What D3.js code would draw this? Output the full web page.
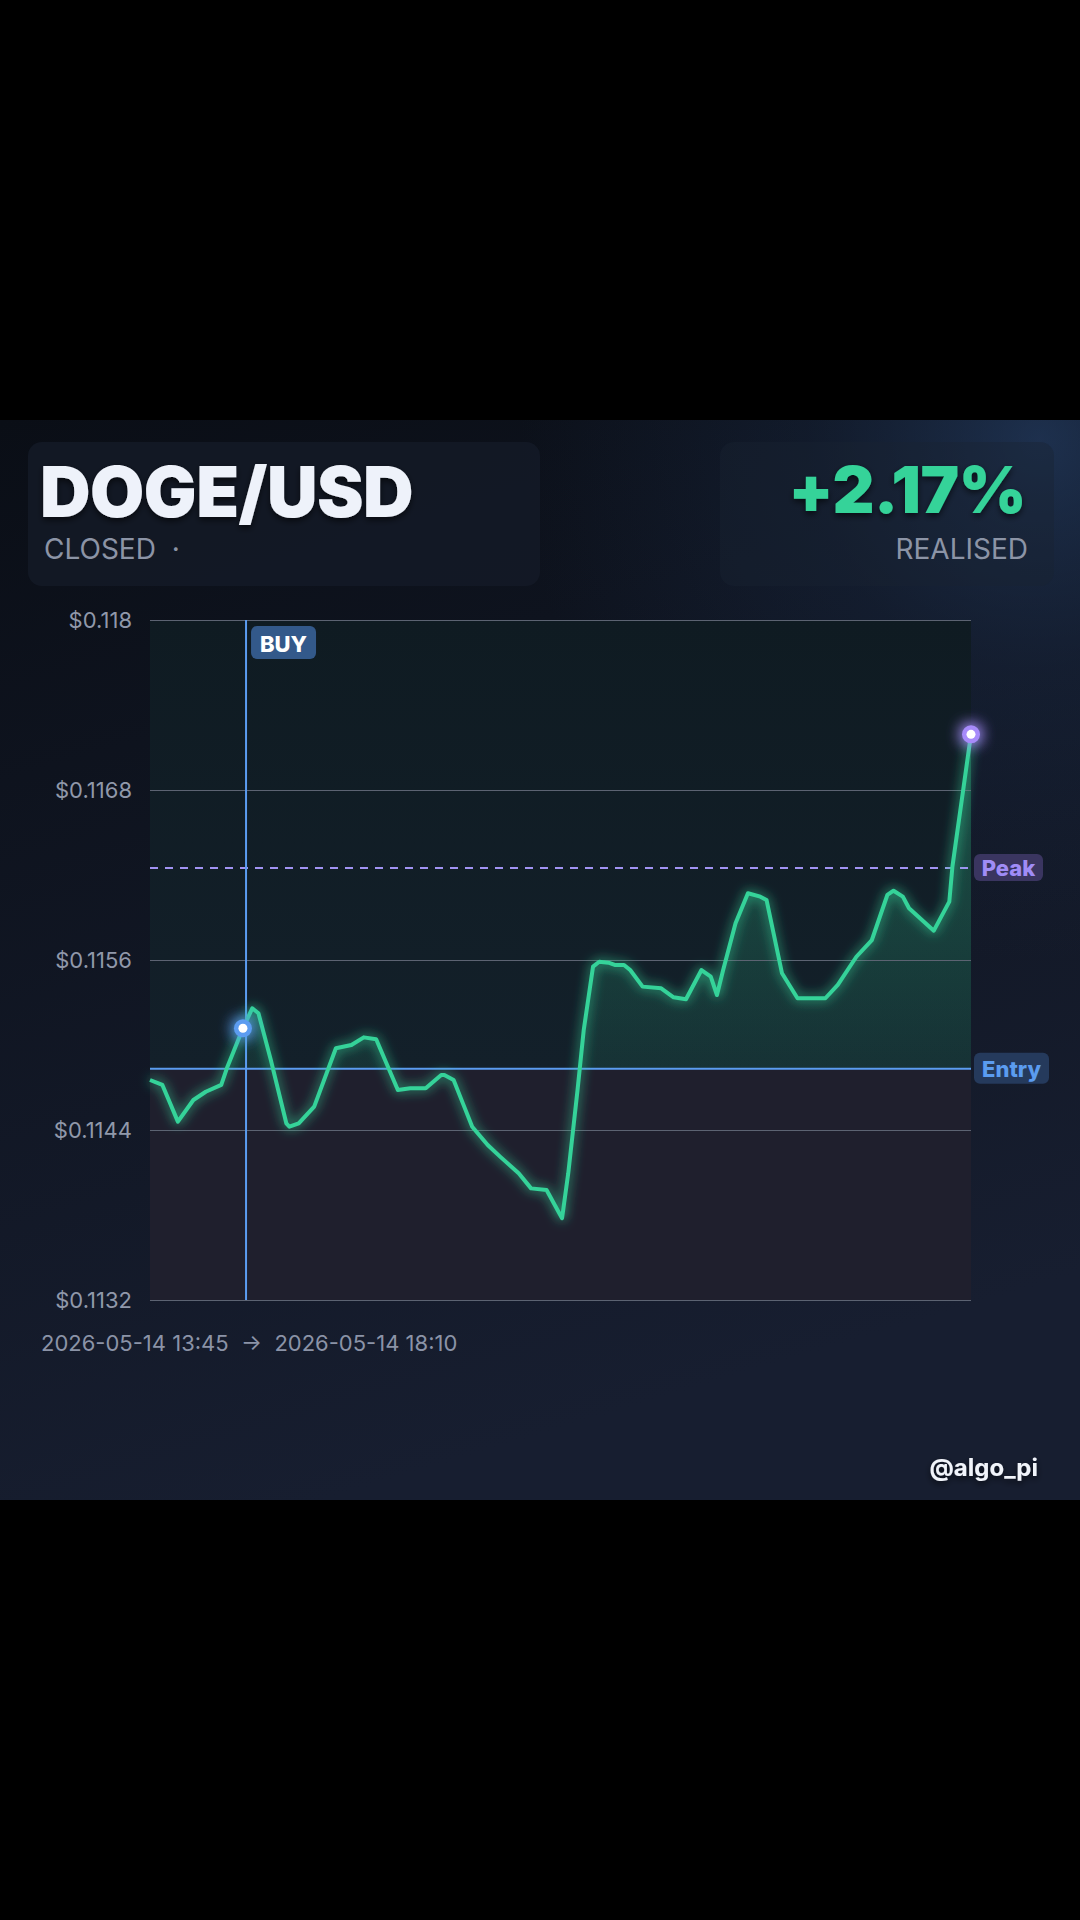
<!DOCTYPE html>
<html>
<head>
<meta charset="utf-8">
<script src="https://cdn.jsdelivr.net/npm/d3@7"></script>
<style>
  html, body { margin: 0; padding: 0; background: #000; }
  svg { display: block; font-family: Inter, "Noto Sans", sans-serif; }
</style>
</head>
<body>
<svg width="1080" height="1920"></svg>
<script>
// price samples (time, price)
const times = ['13:45', '13:49', '13:54', '13:59', '14:03', '14:08', '14:10', '14:15', '14:18', '14:20',
  '14:24', '14:29', '14:30', '14:33', '14:38', '14:45', '14:50', '14:54', '14:58', '15:05',
  '15:09', '15:14', '15:19', '15:20', '15:23', '15:26', '15:29', '15:34', '15:38', '15:44',
  '15:48', '15:53', '15:58', '16:00', '16:03', '16:05', '16:08', '16:10', '16:13', '16:15',
  '16:18', '16:20', '16:24', '16:30', '16:34', '16:38', '16:43', '16:46', '16:48', '16:50',
  '16:54', '16:58', '17:02', '17:04', '17:09', '17:14', '17:18', '17:23', '17:27', '17:33',
  '17:38', '17:43', '17:45', '17:48', '17:50', '17:58', '18:03', '18:04', '18:10'];
const prices = [0.114753, 0.114718, 0.114459, 0.114612, 0.114670, 0.114718, 0.114847, 0.115118, 0.115259, 0.115224,
  0.114894, 0.114447, 0.114423, 0.114447, 0.114565, 0.114977, 0.115000, 0.115054, 0.115040, 0.114682,
  0.114694, 0.114694, 0.114788, 0.114788, 0.114753, 0.114588, 0.114423, 0.114294, 0.114212, 0.114094,
  0.113988, 0.113976, 0.113777, 0.114094, 0.114682, 0.115106, 0.115553, 0.115588, 0.115581, 0.115565,
  0.115565, 0.115529, 0.115412, 0.115400, 0.115337, 0.115323, 0.115529, 0.115482, 0.115353, 0.115529,
  0.115859, 0.116071, 0.116047, 0.116024, 0.115506, 0.115330, 0.115330, 0.115330, 0.115424, 0.115623,
  0.115741, 0.116059, 0.116089, 0.116047, 0.115965, 0.115807, 0.116012, 0.116259, 0.117193];

const yTicks = [0.118, 0.1168, 0.1156, 0.1144, 0.1132];
const timeRange = ['13:45', '18:10'];
const dateLabel = '2026-05-14';

const entryPrice = 0.114833;
const peakPrice = 0.11625;
const buyTime = '14:16';   // vertical BUY marker
const buyPointTime = '14:15'; // dot on the line

const pair = 'DOGE/USD';
const status = 'CLOSED';
const pnl = '+2.17%';
const handle = '@algo_pi';

const parseTime = d3.timeParse('%H:%M');
const points = times.map((t, i) => ({ t: parseTime(t), p: prices[i] }));

function render() {
    const svg = d3.select('svg');
    const defs = svg.append('defs');

    // page background
    svg.append('rect').attr('width', 1080).attr('height', 1920).attr('fill', '#000');

    const panelBg = defs.append('linearGradient').attr('id', 'panelBg')
        .attr('x1', 0).attr('y1', 0).attr('x2', 0.3).attr('y2', 1);
    panelBg.append('stop').attr('offset', '0%').attr('stop-color', '#0a0e16');
    panelBg.append('stop').attr('offset', '100%').attr('stop-color', '#171e30');

    const glow = defs.append('radialGradient').attr('id', 'cornerGlow')
        .attr('gradientUnits', 'userSpaceOnUse')
        .attr('cx', 1040).attr('cy', 440).attr('r', 520);
    glow.append('stop').attr('offset', '0%').attr('stop-color', '#28446e').attr('stop-opacity', 0.6);
    glow.append('stop').attr('offset', '45%').attr('stop-color', '#1e3252').attr('stop-opacity', 0.28);
    glow.append('stop').attr('offset', '100%').attr('stop-color', '#1e3252').attr('stop-opacity', 0);

    svg.append('rect').attr('x', 0).attr('y', 420).attr('width', 1080).attr('height', 1080)
        .attr('fill', 'url(#panelBg)');
    svg.append('rect').attr('x', 0).attr('y', 420).attr('width', 1080).attr('height', 1080)
        .attr('fill', 'url(#cornerGlow)');

    // filters
    const lineGlow = defs.append('filter').attr('id', 'lineGlow')
        .attr('x', '-10%').attr('y', '-10%').attr('width', '120%').attr('height', '120%');
    lineGlow.append('feGaussianBlur').attr('in', 'SourceGraphic').attr('stdDeviation', 6).attr('result', 'blur');
    const lm = lineGlow.append('feMerge');
    lm.append('feMergeNode').attr('in', 'blur');
    lm.append('feMergeNode').attr('in', 'SourceGraphic');

    const dotGlow = defs.append('filter').attr('id', 'dotGlow')
        .attr('x', '-200%').attr('y', '-200%').attr('width', '500%').attr('height', '500%');
    dotGlow.append('feGaussianBlur').attr('in', 'SourceGraphic').attr('stdDeviation', 8).attr('result', 'blur');
    const dm = dotGlow.append('feMerge');
    dm.append('feMergeNode').attr('in', 'blur');
    dm.append('feMergeNode').attr('in', 'blur');
    dm.append('feMergeNode').attr('in', 'SourceGraphic');

    const textShadow = defs.append('filter').attr('id', 'textShadow')
        .attr('x', '-10%').attr('y', '-20%').attr('width', '120%').attr('height', '150%');
    textShadow.append('feDropShadow').attr('dx', 0).attr('dy', 3).attr('stdDeviation', 3)
        .attr('flood-color', '#000').attr('flood-opacity', 0.6);

    // header cards
    svg.append('rect').attr('x', 28).attr('y', 442).attr('width', 512).attr('height', 144).attr('rx', 14)
        .attr('fill', '#141a27').attr('fill-opacity', 0.85);
    svg.append('rect').attr('x', 720).attr('y', 442).attr('width', 334).attr('height', 144).attr('rx', 14)
        .attr('fill', '#1a2233').attr('fill-opacity', 0.4);

    svg.append('text').text(pair)
        .attr('x', 40).attr('y', 517)
        .attr('fill', '#eef2fa').attr('font-size', 70).attr('font-weight', 900)
        .attr('letter-spacing', -0.5)
        .attr('filter', 'url(#textShadow)');
    svg.append('text').text(status + '  ·')
        .attr('x', 44).attr('y', 559)
        .attr('fill', '#8c94a6').attr('font-size', 28)
        .style('white-space', 'pre');

    svg.append('text').text(pnl)
        .attr('x', 1026).attr('y', 513).attr('text-anchor', 'end')
        .attr('fill', '#34d399').attr('font-size', 65).attr('font-weight', 900)
        .attr('letter-spacing', -0.5)
        .attr('filter', 'url(#textShadow)');
    svg.append('text').text('REALISED')
        .attr('x', 1028).attr('y', 559).attr('text-anchor', 'end')
        .attr('fill', '#8c94a6').attr('font-size', 28);

    // plot area
    const left = 150, right = 971, top = 620, bottom = 1300;

    const x = d3.scaleTime()
        .domain(timeRange.map(parseTime))
        .range([left, right]);
    const y = d3.scaleLinear()
        .domain([yTicks[yTicks.length - 1], yTicks[0]])
        .range([bottom, top]);

    const entryY = y(entryPrice);

    const upperBg = defs.append('linearGradient').attr('id', 'upperBg')
        .attr('x1', 0).attr('y1', 0).attr('x2', 0).attr('y2', 1);
    upperBg.append('stop').attr('offset', '0%').attr('stop-color', '#0f1b22');
    upperBg.append('stop').attr('offset', '100%').attr('stop-color', '#13202a');

    svg.append('rect').attr('x', left).attr('y', top)
        .attr('width', right - left).attr('height', entryY - top)
        .attr('fill', 'url(#upperBg)');
    svg.append('rect').attr('x', left).attr('y', entryY)
        .attr('width', right - left).attr('height', bottom - entryY)
        .attr('fill', '#1f1f2d');

    // green fill between the line and entry (only above entry)
    defs.append('clipPath').attr('id', 'aboveEntry')
        .append('rect').attr('x', left).attr('y', top)
        .attr('width', right - left).attr('height', entryY - top);

    const areaFill = defs.append('linearGradient').attr('id', 'areaFill')
        .attr('gradientUnits', 'userSpaceOnUse')
        .attr('x1', 0).attr('y1', y(d3.max(prices))).attr('x2', 0).attr('y2', entryY);
    areaFill.append('stop').attr('offset', '0%').attr('stop-color', '#34d399').attr('stop-opacity', 0.3);
    areaFill.append('stop').attr('offset', '100%').attr('stop-color', '#34d399').attr('stop-opacity', 0.1);

    const area = d3.area()
        .x(d => x(d.t))
        .y0(entryY)
        .y1(d => y(d.p));

    svg.append('path')
        .datum(points)
        .attr('d', area)
        .attr('fill', 'url(#areaFill)')
        .attr('clip-path', 'url(#aboveEntry)');

    // grid + y labels
    const yAxis = d3.axisLeft(y)
        .tickValues(yTicks)
        .tickSize(-(right - left))
        .tickPadding(18)
        .tickFormat(d => '$' + d);

    const gy = svg.append('g')
        .attr('transform', `translate(${left},0)`)
        .call(yAxis);
    gy.select('.domain').remove();
    gy.selectAll('.tick line').attr('stroke', '#5c6372').attr('stroke-width', 1.2);
    gy.selectAll('.tick text')
        .attr('fill', '#9098aa').attr('font-size', 22)
        .attr('font-family', 'Inter, sans-serif');

    // peak dashed line
    svg.append('line')
        .attr('x1', left).attr('x2', right)
        .attr('y1', y(peakPrice)).attr('y2', y(peakPrice))
        .attr('stroke', '#a193f2').attr('stroke-width', 2)
        .attr('stroke-dasharray', '8,7');

    // entry line
    svg.append('line')
        .attr('x1', left).attr('x2', right)
        .attr('y1', entryY).attr('y2', entryY)
        .attr('stroke', '#5b9cf0').attr('stroke-width', 2);

    // buy marker
    const buyX = x(parseTime(buyTime));
    svg.append('line')
        .attr('x1', buyX).attr('x2', buyX)
        .attr('y1', top).attr('y2', bottom)
        .attr('stroke', '#5b9cf0').attr('stroke-width', 2);

    // price line
    const line = d3.line()
        .x(d => x(d.t))
        .y(d => y(d.p));

    svg.append('path')
        .datum(points)
        .attr('d', line)
        .attr('fill', 'none')
        .attr('stroke', '#34d399')
        .attr('stroke-width', 4)
        .attr('stroke-linejoin', 'round')
        .attr('filter', 'url(#lineGlow)');

    // dots
    const buyPoint = points.find(d => +d.t === +parseTime(buyPointTime));
    const lastPoint = points[points.length - 1];

    function dot(pt, color) {
        svg.append('circle')
            .attr('cx', x(pt.t)).attr('cy', y(pt.p)).attr('r', 9)
            .attr('fill', color).attr('filter', 'url(#dotGlow)');
        svg.append('circle')
            .attr('cx', x(pt.t)).attr('cy', y(pt.p)).attr('r', 4.5)
            .attr('fill', '#ffffff');
    }
    dot(buyPoint, '#5b9cf0');
    dot(lastPoint, '#a78bfa');

    // labels
    function tag(text, lx, ly, w, h, fill, color) {
        svg.append('rect').attr('x', lx).attr('y', ly).attr('width', w).attr('height', h)
            .attr('rx', 6).attr('fill', fill);
        svg.append('text').text(text)
            .attr('x', lx + w / 2).attr('y', ly + h / 2 + 1)
            .attr('text-anchor', 'middle').attr('dominant-baseline', 'central')
            .attr('fill', color).attr('font-size', 22).attr('font-weight', 800);
    }
    tag('BUY', buyX + 5, top + 6, 65, 33, '#33598a', '#ffffff');
    tag('Peak', right + 3, y(peakPrice) - 14, 69, 27, '#3a3560', '#a08cf6');
    tag('Entry', right + 3, entryY - 16, 75, 31, '#253a5c', '#5b9cf0');

    // time range footer
    svg.append('text')
        .text(`${dateLabel} ${timeRange[0]}  →  ${dateLabel} ${timeRange[1]}`)
        .attr('x', 41).attr('y', 1351)
        .attr('fill', '#8b93a7').attr('font-size', 22)
        .style('white-space', 'pre');

    svg.append('text').text(handle)
        .attr('x', 1038).attr('y', 1476).attr('text-anchor', 'end')
        .attr('fill', '#f1f4fa').attr('font-size', 24).attr('font-weight', 700)
        .attr('filter', 'url(#textShadow)');
}

render();
</script>
</body>
</html>
